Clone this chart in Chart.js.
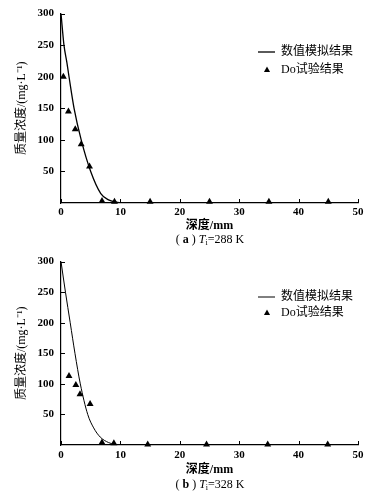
<!DOCTYPE html>
<html><head><meta charset="utf-8">
<script src="https://cdn.jsdelivr.net/npm/chart.js@4"></script>
<style>
html,body{margin:0;padding:0;background:#fff;width:381px;height:492px;overflow:hidden}
.panel{position:absolute;left:0;width:381px}
canvas{display:block}
.cap{position:absolute;left:0;width:420px;text-align:center;font:12px 'Liberation Serif','Noto Sans CJK SC',serif;color:#000;line-height:14px;white-space:pre}
.cap sub{font-size:8px;vertical-align:-2px;line-height:0}
</style></head><body>
<div class="panel" style="top:0;height:248px"><canvas id="c1" width="381" height="248"></canvas></div>
<div class="panel" style="top:248px;height:244px"><canvas id="c2" width="381" height="244"></canvas></div>
<div class="cap" style="top:232px">( <b>a</b> ) <i>T</i><sub>i</sub>=288 K</div>
<div class="cap" style="top:477px">( <b>b</b> ) <i>T</i><sub>i</sub>=328 K</div>
<script>
// ---- data ----
const xTickValues = [0, 10, 20, 30, 40, 50];
const yTickValues = [50, 100, 150, 200, 250, 300];
const simLabel = '数值模拟结果';
const expLabel = 'Do试验结果';
const xTitle = '深度/mm';
const yTitle = '质量浓度/(mg·L⁻¹)';

// panel (a) T=288 K
const simDepthA = [0, 0.5, 1, 1.35, 2.2, 3.4, 5, 6.7, 8, 9.5, 11, 20, 30, 40, 50];
const simConcA  = [300, 250, 222, 200, 150, 100, 50, 15, 5, 1, 0, 0, 0, 0, 0];
const expDepthA = [0.4, 1.25, 2.4, 3.4, 4.8, 6.9, 9, 15, 25, 35, 45];
const expConcA  = [200, 145, 117, 93, 58, 3, 2, 2, 2, 2, 2];

// panel (b) T=328 K
const simDepthB = [0, 0.75, 1.55, 2.35, 3.25, 4.5, 5.5, 6.6, 8, 9.1, 11, 20, 30, 40, 50];
const simConcB  = [300, 250, 200, 150, 100, 50, 28, 13, 4, 1, 0, 0, 0, 0, 0];
const expDepthB = [1.35, 2.5, 3.2, 4.9, 6.9, 8.9, 14.6, 24.5, 34.8, 44.9];
const expConcB  = [113, 98, 83, 67, 4, 3, 1, 1, 1, 1];

const FAM = "'Liberation Serif','Noto Sans CJK SC',serif";

const innerTicks = {
  id: 'innerTicks',
  afterDatasetsDraw(chart) {
    const {ctx, scales: {x, y}, chartArea: a} = chart;
    ctx.save();
    ctx.strokeStyle = '#000';
    ctx.lineWidth = 1;
    ctx.beginPath();
    x.ticks.forEach(t => {
      const px = Math.round(x.getPixelForValue(t.value)) + 0.5;
      ctx.moveTo(px, a.bottom); ctx.lineTo(px, a.bottom - 4);
    });
    y.ticks.forEach(t => {
      const py = Math.round(y.getPixelForValue(t.value)) + 0.5;
      ctx.moveTo(a.left, py); ctx.lineTo(a.left + 4, py);
    });
    ctx.stroke();
    ctx.restore();
  }
};

const inLegend = {
  id: 'inLegend',
  afterDraw(chart, args, o) {
    const ctx = chart.ctx;
    const ds = chart.data.datasets;
    ctx.save();
    ctx.font = '12px ' + FAM;
    ctx.textBaseline = 'middle';
    ctx.textAlign = 'left';
    ctx.fillStyle = '#000';
    ctx.strokeStyle = '#000';
    ctx.lineWidth = ds[0].borderWidth;
    ctx.beginPath();
    ctx.moveTo(o.lx, o.y1); ctx.lineTo(o.lx + 17, o.y1);
    ctx.stroke();
    ctx.fillText(ds[0].label, o.tx, o.y1);
    const cx = o.lx + 9, cy = o.y2, r = 3.4;
    ctx.beginPath();
    ctx.moveTo(cx, cy - r);
    ctx.lineTo(cx + r * 0.9, cy + r * 0.6);
    ctx.lineTo(cx - r * 0.9, cy + r * 0.6);
    ctx.closePath();
    ctx.fill();
    ctx.fillText(ds[1].label, o.tx, o.y2);
    ctx.restore();
  }
};

function makePanel(id, simX, simY, expX, expY, p) {
  new Chart(document.getElementById(id), {
    data: {
      datasets: [
        {
          type: 'line', label: simLabel,
          data: simX.map((v, i) => ({x: v, y: simY[i]})),
          borderColor: '#000', borderWidth: p.lw, pointRadius: 0,
          cubicInterpolationMode: 'monotone', fill: false
        },
        {
          type: 'scatter', label: expLabel,
          data: expX.map((v, i) => ({x: v, y: expY[i]})),
          pointStyle: 'triangle', pointRadius: 4,
          backgroundColor: '#000', borderColor: '#000', borderWidth: 0,
          clip: false
        }
      ]
    },
    options: {
      responsive: false, animation: false, devicePixelRatio: 1,
      layout: {padding: {top: 11, right: 23, left: 0, bottom: p.padBottom}},
      plugins: {
        legend: {display: false}, tooltip: {enabled: false},
        inLegend: p.legend
      },
      scales: {
        x: {
          type: 'linear', min: 0, max: 50,
          afterBuildTicks: s => { s.ticks = xTickValues.map(v => ({value: v})); },
          afterFit: s => { s.height = p.xh; },
          grid: {display: true, drawOnChartArea: false, drawTicks: false},
          border: {display: true, color: '#000', width: 1.2},
          ticks: {color: '#000', padding: p.xpad, maxRotation: 0,
                  font: {family: FAM, size: 11, weight: 'bold'}},
          title: {display: true, text: xTitle, color: '#000',
                  font: {family: FAM, size: 12, weight: 'bold'}, padding: {top: 0, bottom: 0}}
        },
        y: {
          type: 'linear', min: 0, max: 300,
          afterBuildTicks: s => { s.ticks = yTickValues.map(v => ({value: v})); },
          afterFit: s => { s.width = 61; },
          grid: {display: true, drawOnChartArea: false, drawTicks: false},
          border: {display: true, color: '#000', width: 1.2},
          ticks: {color: '#000', padding: 7,
                  font: {family: FAM, size: 11, weight: 'bold'}},
          title: {display: true, text: yTitle, color: '#000',
                  font: {family: FAM, size: 12}, padding: {top: 15, bottom: 0}}
        }
      }
    },
    plugins: [innerTicks, inLegend]
  });
}

makePanel('c1', simDepthA, simConcA, expDepthA, expConcA,
  {lw: 1.3, padBottom: 15, xh: 30, xpad: 3, legend: {lx: 258, tx: 281, y1: 52, y2: 70}});
makePanel('c2', simDepthB, simConcB, expDepthB, expConcB,
  {lw: 1, padBottom: 15, xh: 32, xpad: 4, legend: {lx: 258, tx: 281, y1: 49, y2: 65}});
</script>
</body></html>
